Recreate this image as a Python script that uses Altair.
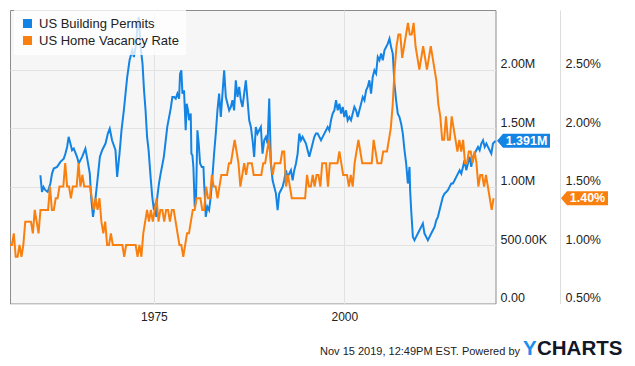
import altair as alt
import pandas as pd

BLUE = "#1384e4"
ORANGE = "#f9800f"
FONT = "Liberation Sans"

# ---- US Building Permits (millions) ----
permit_years = [
    1960.09, 1960.3, 1960.5, 1960.75, 1961.05, 1961.4, 1961.62, 1961.84, 1962.28, 1962.72,
    1963.16, 1963.38, 1963.6, 1963.8, 1964.03, 1964.25, 1964.47, 1964.9, 1965.13, 1965.57,
    1966.0, 1966.2, 1966.58, 1966.75, 1967.0, 1967.3, 1967.63, 1967.9, 1968.2, 1968.64,
    1968.95, 1969.2, 1969.5, 1969.95, 1970.17, 1970.48, 1970.74, 1971.05, 1971.27, 1971.49,
    1971.8, 1972.15, 1972.37, 1972.6, 1972.8, 1973.0, 1973.25, 1973.5, 1973.7, 1973.9,
    1974.1, 1974.3, 1974.56, 1974.78, 1975.0, 1975.2, 1975.3, 1975.44, 1975.66, 1975.88,
    1976.3, 1976.5, 1976.75, 1977.2, 1977.42, 1977.64, 1977.86, 1978.08, 1978.3, 1978.43,
    1978.6, 1978.74, 1978.95, 1979.17, 1979.3, 1979.48, 1979.61, 1979.83, 1979.92, 1980.05,
    1980.18, 1980.36, 1980.53, 1980.71, 1980.88, 1981.06, 1981.28, 1981.5, 1981.59, 1981.72,
    1981.8, 1982.02, 1982.24, 1982.46, 1982.68, 1982.9, 1983.12, 1983.34, 1983.56, 1983.78,
    1984.0, 1984.22, 1984.44, 1984.66, 1984.88, 1985.1, 1985.31, 1985.53, 1985.75, 1985.97,
    1986.19, 1986.41, 1986.63, 1986.85, 1987.07, 1987.29, 1987.51, 1987.73, 1987.95, 1988.16,
    1988.38, 1988.6, 1988.82, 1989.04, 1989.26, 1989.48, 1989.7, 1989.92, 1990.14, 1990.27,
    1990.36, 1990.58, 1990.8, 1991.02, 1991.24, 1991.45, 1991.67, 1991.89, 1992.11, 1992.33,
    1992.55, 1992.77, 1992.99, 1993.21, 1993.43, 1993.65, 1993.87, 1994.09, 1994.3, 1994.52,
    1994.74, 1994.96, 1995.18, 1995.4, 1995.62, 1995.84, 1996.06, 1996.28, 1996.5, 1996.72,
    1996.94, 1997.16, 1997.38, 1997.6, 1997.81, 1998.03, 1998.25, 1998.47, 1998.69, 1998.91,
    1999.13, 1999.35, 1999.57, 1999.79, 2000.0, 2000.22, 2000.44, 2000.66, 2000.88, 2001.1,
    2001.32, 2001.54, 2001.76, 2001.98, 2002.2, 2002.42, 2002.64, 2002.86, 2003.07, 2003.29,
    2003.51, 2003.73, 2003.95, 2004.17, 2004.39, 2004.61, 2004.83, 2005.05, 2005.27, 2005.49,
    2005.71, 2005.93, 2006.14, 2006.36, 2006.58, 2006.8, 2007.02, 2007.24, 2007.46, 2007.68,
    2007.9, 2008.12, 2008.34, 2008.56, 2008.64, 2008.78, 2009.0, 2009.21, 2009.43, 2009.65,
    2009.87, 2010.09, 2010.31, 2010.53, 2010.75, 2010.97, 2011.19, 2011.41, 2011.63, 2011.85,
    2012.07, 2012.29, 2012.5, 2012.72, 2012.94, 2013.16, 2013.38, 2013.6, 2013.82, 2014.04,
    2014.26, 2014.48, 2014.7, 2014.92, 2015.14, 2015.36, 2015.58, 2015.79, 2016.01, 2016.23,
    2016.45, 2016.67, 2016.89, 2017.11, 2017.33, 2017.55, 2017.77, 2017.99, 2018.21, 2018.43,
    2018.65, 2018.86, 2019.08, 2019.3, 2019.52, 2019.85,
]
permit_values = [
    1.097, 0.954, 0.997, 0.969, 0.954, 1.026, 1.111, 1.154, 1.168, 1.211,
    1.239, 1.282, 1.339, 1.425, 1.368, 1.311, 1.325, 1.254, 1.197, 1.254,
    1.325, 1.254, 1.111, 0.912, 0.741, 0.883, 1.083, 1.254, 1.311, 1.368,
    1.453, 1.496, 1.396, 1.311, 1.083, 1.282, 1.481, 1.652, 1.795, 1.937,
    2.080, 2.165, 2.108, 2.194, 2.336, 2.450, 2.194, 2.051, 1.823, 1.652,
    1.425, 1.311, 1.083, 0.912, 0.798, 0.855, 0.741, 0.912, 1.026, 1.111,
    1.254, 1.368, 1.510, 1.667, 1.766, 1.766, 1.752, 1.795, 1.752, 1.966,
    1.994, 1.795, 1.823, 1.481, 1.709, 1.652, 1.567, 1.624, 1.282, 1.268,
    1.168, 0.826, 0.912, 1.481, 1.368, 1.197, 1.168, 1.168, 1.026, 0.883,
    0.741, 0.826, 0.798, 0.912, 1.083, 1.282, 1.453, 1.652, 1.795, 1.595,
    1.795, 1.994, 1.766, 1.709, 1.652, 1.681, 1.738, 1.652, 1.909, 1.766,
    1.852, 1.738, 1.681, 1.795, 1.909, 1.738, 1.567, 1.510, 1.396, 1.254,
    1.510, 1.453, 1.481, 1.510, 1.282, 1.396, 1.425, 1.368, 1.752, 1.425,
    1.197, 1.054, 0.997, 0.940, 0.798, 0.940, 0.969, 0.997, 1.054, 1.140,
    1.083, 1.111, 1.140, 1.054, 1.140, 1.197, 1.282, 1.453, 1.396, 1.425,
    1.396, 1.368, 1.311, 1.254, 1.311, 1.368, 1.425, 1.453, 1.453, 1.425,
    1.396, 1.425, 1.453, 1.481, 1.510, 1.481, 1.567, 1.624, 1.652, 1.738,
    1.652, 1.709, 1.624, 1.681, 1.595, 1.652, 1.567, 1.595, 1.567, 1.624,
    1.681, 1.652, 1.595, 1.652, 1.709, 1.766, 1.738, 1.823, 1.852, 1.909,
    1.795, 1.937, 1.994, 1.966, 2.108, 2.080, 2.137, 2.080, 2.165, 2.194,
    2.222, 2.265, 2.194, 2.137, 1.880, 1.738, 1.624, 1.595, 1.538, 1.453,
    1.311, 1.197, 1.026, 1.168, 0.969, 0.798, 0.570, 0.541, 0.570, 0.598,
    0.627, 0.655, 0.684, 0.598, 0.570, 0.541, 0.570, 0.598, 0.627, 0.655,
    0.712, 0.741, 0.798, 0.855, 0.912, 0.940, 0.954, 0.969, 0.997, 1.026,
    1.026, 1.054, 1.083, 1.111, 1.140, 1.111, 1.168, 1.225, 1.140, 1.197,
    1.254, 1.168, 1.254, 1.282, 1.311, 1.339, 1.311, 1.368, 1.396, 1.339,
    1.368, 1.339, 1.311, 1.282, 1.368, 1.391,
]

# ---- US Home Vacancy Rate (%), quarterly from Q1 1956 ----
vacancy_values = [
    1.0, 1.0, 1.1, 0.9,  0.9, 1.0, 0.9, 1.0,  1.2, 1.2, 1.2, 1.2,  1.1, 1.3, 1.2, 1.1,
    1.3, 1.3, 1.3, 1.3,  1.3, 1.5, 1.3, 1.3,  1.4, 1.4, 1.5, 1.5,  1.5, 1.7, 1.5, 1.5,
    1.4, 1.5, 1.5, 1.5,  1.7, 1.5, 1.6, 1.5,  1.5, 1.5, 1.5, 1.4,  1.3, 1.4, 1.3, 1.4,
    1.2, 1.1, 1.2, 1.0,  1.0, 1.1, 1.0, 1.0,  1.0, 1.0, 1.0, 1.0,  0.9, 1.0, 1.0, 1.0,
    1.0, 1.0, 1.0, 0.9,  1.0, 0.9, 1.1, 1.2,  1.3, 1.2, 1.3, 1.2,  1.3, 1.4, 1.2, 1.3,
    1.3, 1.2, 1.3, 1.3,  1.2, 1.3, 1.3, 1.2,  1.1, 1.0, 1.0, 0.9,  1.0, 1.1, 1.1, 1.2,
    1.3, 1.3, 1.4, 1.4,  1.4, 1.3, 1.3, 1.5,  1.4, 1.4, 1.6, 1.5,  1.5, 1.4, 1.5, 1.6,
    1.6, 1.6, 1.6, 1.7,  1.7, 1.8, 1.9, 1.8,  1.7, 1.5, 1.6, 1.7,  1.6, 1.7, 1.7, 1.7,
    1.6, 1.6, 1.6, 1.6,  1.6, 1.7, 1.7, 1.8,  1.9, 1.7, 1.6, 1.7,  1.7, 1.7, 1.7, 1.8,
    1.8, 1.5, 1.6, 1.5,  1.4, 1.4, 1.4, 1.4,  1.4, 1.4, 1.4, 1.4,  1.6, 1.5, 1.5, 1.6,
    1.5, 1.6, 1.6, 1.5,  1.7, 1.7, 1.7, 1.5,  1.7, 1.7, 1.7, 1.7,  1.7, 1.8, 1.7, 1.6,
    1.6, 1.6, 1.5, 1.6,  1.5, 1.7, 1.8, 1.9,  1.8, 1.7, 1.7, 1.7,  1.7, 1.7, 1.7, 1.9,
    1.8, 1.7, 1.7, 1.7,  1.8, 1.8, 1.8, 1.9,  2.0, 2.2, 2.5, 2.7,  2.8, 2.8, 2.6, 2.7,
    2.8, 2.9, 2.8, 2.8,  2.9, 2.7, 2.6, 2.5,  2.6, 2.7, 2.6, 2.5,  2.6, 2.7, 2.6, 2.5,
    2.4, 2.2, 2.1, 1.9,  1.9, 2.1, 1.9, 1.9,  2.1, 2.0, 1.9, 1.8,  1.9, 1.8, 1.9, 1.7,
    1.7, 1.8, 1.8, 1.7,  1.8, 1.7, 1.5, 1.6,  1.6, 1.5, 1.6, 1.5,  1.4, 1.3, 1.4,
]
vacancy_years = [round(1956.1 + 0.25 * i, 2) for i in range(len(vacancy_values))]

SERIES = ["US Building Permits", "US Home Vacancy Rate"]
permit_tick_values = [0, 0.5, 1.0, 1.5, 2.0]
vacancy_tick_values = [0.5, 1.0, 1.5, 2.0, 2.5]
x_tick_values = [1975, 2000]

permits_df = pd.DataFrame({"year": permit_years, "permits": permit_values, "series": SERIES[0]})
vac_df = pd.DataFrame({"year": vacancy_years, "vacancy": vacancy_values, "series": SERIES[1]})
permit_last = pd.DataFrame({"permits": [permit_values[-1]], "series": [SERIES[0]],
                            "label": [f"{permit_values[-1]:.3f}M"]})
vac_last = pd.DataFrame({"vacancy": [vacancy_values[-1]], "series": [SERIES[1]],
                         "label": [f"{vacancy_values[-1]:.2f}%"]})

W, H = 485.5, 293.5

color_scale = alt.Scale(domain=SERIES, range=[BLUE, ORANGE])
legend = alt.Legend(title=None, orient="none", legendX=4, legendY=0, direction="vertical",
                    fillColor="rgba(255,255,255,0.78)", padding=7, symbolType="square",
                    symbolSize=81, symbolStrokeWidth=0, symbolOpacity=1, labelFontSize=13,
                    labelColor="#222222", labelFont=FONT, rowPadding=3, labelOffset=5)

x_enc = alt.X("year:Q", scale=alt.Scale(domain=[1956.1, 2019.85], nice=False, zero=False),
              axis=alt.Axis(values=x_tick_values, format="d", title=None, grid=True,
                            gridColor="#e2e2e2", ticks=False, domain=False, labelPadding=8,
                            labelFontSize=12, labelColor="#222222", labelFlush=False))

perm_axis = alt.Axis(orient="right", values=permit_tick_values, title=None, grid=True,
                     gridColor="#e2e2e2", ticks=False, domain=False, labelPadding=4.5,
                     labelBaseline="bottom", labelOffset=1, labelFlush=False,
                     labelFontSize=12.5, labelColor="#222222",
                     labelExpr="datum.value == 0 ? '0.00' : (datum.value < 1 ? "
                               "format(datum.value * 1000, '.2f') + 'K' : "
                               "format(datum.value, '.2f') + 'M')")
perm_scale = alt.Scale(domain=[0, 2.51], nice=False, zero=False)

vac_axis = alt.Axis(orient="right", values=vacancy_tick_values, title=None, grid=False,
                    ticks=False, domain=True, domainColor="#dddddd", offset=64.5,
                    labelPadding=5, labelBaseline="bottom", labelOffset=1, labelFlush=False,
                    labelFontSize=12.5, labelColor="#222222",
                    labelExpr="format(datum.value, '.2f') + '%'")
vac_scale = alt.Scale(domain=[0.5, 3.01], nice=False, zero=False)

y_perm = alt.Y("permits:Q", scale=perm_scale, axis=perm_axis)
y_vac = alt.Y("vacancy:Q", scale=vac_scale, axis=vac_axis)

blue_line = alt.Chart(permits_df).mark_line(strokeWidth=2, color=BLUE).encode(x=x_enc, y=y_perm)
orange_line = alt.Chart(vac_df).mark_line(strokeWidth=2, color=ORANGE).encode(x=x_enc, y=y_vac)

BLUE_TAG = "M -1 0 L -0.774 -0.264 L 1 -0.264 L 1 0.264 L -0.774 0.264 Z"
ORANGE_TAG = "M -1 0 L -0.745 -0.298 L 1 -0.298 L 1 0.298 L -0.745 0.298 Z"

blue_tag = alt.Chart(permit_last).mark_point(shape=BLUE_TAG, size=53 ** 2, filled=True,
                                             opacity=1, strokeWidth=0).encode(
    x=alt.value(513.5), y=y_perm,
    color=alt.Color("series:N", scale=color_scale, legend=legend))
blue_text = alt.Chart(permit_last).mark_text(color="white", fontWeight="bold", fontSize=12.5,
                                             align="center", baseline="middle", font=FONT).encode(
    x=alt.value(516.5), y=y_perm, text="label:N")

orange_tag = alt.Chart(vac_last).mark_point(shape=ORANGE_TAG, size=47 ** 2, filled=True,
                                            opacity=1, strokeWidth=0).encode(
    x=alt.value(574.5), y=y_vac,
    color=alt.Color("series:N", scale=color_scale, legend=legend))
orange_text = alt.Chart(vac_last).mark_text(color="white", fontWeight="bold", fontSize=12.5,
                                            align="center", baseline="middle", font=FONT).encode(
    x=alt.value(577.5), y=y_vac, text="label:N")

footer_df = pd.DataFrame({"t": ["Nov 15 2019, 12:49PM EST.  Powered by"]})
footer = alt.Chart(footer_df).mark_text(align="right", baseline="middle", fontSize=11,
                                        color="#222222", font=FONT).encode(
    x=alt.value(510), y=alt.value(342), text="t:N")
logo_y = alt.Chart(pd.DataFrame({"t": ["Y"]})).mark_text(
    align="left", baseline="alphabetic", fontSize=20.5, fontWeight="bold", color="#1a8df0",
    font=FONT).encode(x=alt.value(513), y=alt.value(345), text="t:N")
logo_rest = alt.Chart(pd.DataFrame({"t": ["CHARTS"]})).mark_text(
    align="left", baseline="alphabetic", fontSize=20.5, fontWeight="bold", color="#101828",
    font=FONT).encode(x=alt.value(527), y=alt.value(345), text="t:N")

perm_layer = alt.layer(blue_line, blue_tag, blue_text)
vac_layer = alt.layer(orange_line, orange_tag, orange_text)

chart = alt.layer(perm_layer, vac_layer, footer, logo_y, logo_rest).resolve_scale(
    y="independent"
).properties(
    width=W, height=H,
    padding={"left": 2, "top": 2, "right": 131.5, "bottom": 54.5},
    autosize=alt.AutoSizeParams(type="none"),
).configure(
    font=FONT, background="white"
).configure_view(
    fill="#f6f6f6", stroke="#8c8c8c", strokeWidth=1
)

chart.save("out.html", embed_options={"renderer": "svg", "actions": False})
